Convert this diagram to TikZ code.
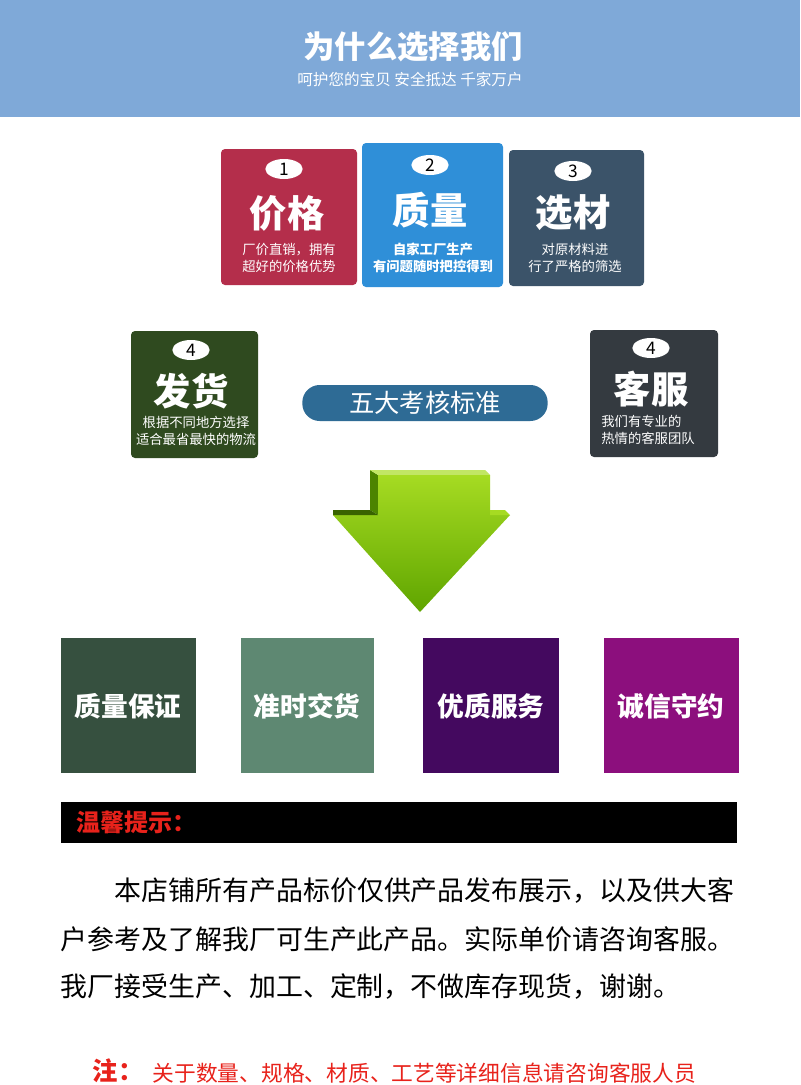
\documentclass[tikz,border=0pt]{standalone}
\usepackage{fontspec}
\newfontfamily\cjk{Noto Sans CJK SC}
\usetikzlibrary{shapes.geometric}
\definecolor{hdr}{HTML}{7FA9D8}
\definecolor{cA}{HTML}{B42E4B}
\definecolor{cB}{HTML}{2F8FD8}
\definecolor{cC}{HTML}{3B5369}
\definecolor{cD}{HTML}{2F4A1F}
\definecolor{cE}{HTML}{343A40}
\definecolor{pill}{HTML}{2E6B95}
\definecolor{sA}{HTML}{36503F}
\definecolor{sB}{HTML}{5E8872}
\definecolor{sC}{HTML}{44095F}
\definecolor{sD}{HTML}{8C0F7D}
\definecolor{rd}{HTML}{E8221B}
\definecolor{gA}{HTML}{A6DB22}
\definecolor{gB}{HTML}{5FA500}
\tikzset{
  x=0.75pt,y=-0.75pt,
  card/.style={rounded corners=3pt,inner sep=0},
  num/.style={ellipse,fill=white,minimum width=28pt,minimum height=15pt,inner sep=0,font=\cjk\fontsize{13}{13}\selectfont},
  big/.style={text=white,font=\cjk\bfseries\fontsize{28}{30}\selectfont},
  small/.style={text=white,align=center,font=\cjk\fontsize{10}{13}\selectfont},
  sq/.style={inner sep=0},
  sqt/.style={text=white,font=\cjk\bfseries\fontsize{20}{22}\selectfont},
  para/.style={anchor=west,font=\cjk\fontsize{20.2}{21}\selectfont}
}
\begin{document}
\begin{tikzpicture}
\useasboundingbox (0,0) rectangle (800,1085);
\fill[white] (0,0) rectangle (800,1085);
\fill[hdr] (0,0) rectangle (800,117);
\node[text=white,font=\cjk\bfseries\fontsize{23.5}{26}\selectfont] (title) at (413,47) {为什么选择我们};
\node[text=white,font=\cjk\fontsize{11.7}{13}\selectfont] (sub) at (410,80) {呵护您的宝贝 安全抵达 千家万户};
% top cards
\fill[cA,card] (221,149) rectangle (357,285);
\fill[cB,card] (362,143) rectangle (503,287);
\fill[cC,card] (509,150) rectangle (644,286);
\node[num] (n1) at (284,169) {1};
\node[num] (n2) at (430,165) {2};
\node[num] (n3) at (573,171) {3};
\node[big] (t1) at (287,213) {价格};
\node[big] (t2) at (430,210) {质量};
\node[big] (t3) at (573,213) {选材};
\node[small] (s1) at (289,258) {厂价直销，拥有\\超好的价格优势};
\node[small,font=\cjk\bfseries\fontsize{10}{13}\selectfont] (s2) at (433,258) {自家工厂生产\\有问题随时把控得到};
\node[small] (s3) at (575,258) {对原材料进\\行了严格的筛选};
% side cards
\fill[cD,card] (131,331) rectangle (258,458);
\fill[cE,card] (590,330) rectangle (718,457);
\node[num] (n4) at (191,350) {4};
\node[num] (n5) at (651,348) {4};
\node[big] (t4) at (191,391) {发货};
\node[big] (t5) at (651,389) {客服};
\node[small] (s4) at (196,431) {根据不同地方选择\\适合最省最快的物流};
\node[small,align=left] (s5) at (648,430) {我们有专业的\\热情的客服团队};
% pill
\node[fill=pill,rounded corners=13pt,minimum width=184pt,minimum height=27pt,text=white,font=\cjk\fontsize{19}{20}\selectfont] (pill) at (425,403) {五大考核标准};
% arrow
\fill[gB!80!black] (370,470) -- (378,475) -- (378,515) -- (370,510) -- cycle;
\fill[gA!70!white] (370,470) -- (485,470) -- (490,475) -- (378,475) -- cycle;
\shade[top color=gA,bottom color=gB] (378,475) -- (490,475) -- (490,515) -- (510,515) -- (420,612) -- (333,515) -- (378,515) -- cycle;
\fill[gB!60!black] (333,510) -- (370,510) -- (378,515) -- (333,515) -- cycle;
\fill[gA] (490,510) -- (505,510) -- (510,515) -- (490,515) -- cycle;
% squares
\fill[sA] (61,638) rectangle (196,773);
\fill[sB] (241,638) rectangle (374,773);
\fill[sC] (423,638) rectangle (559,773);
\fill[sD] (604,638) rectangle (739,773);
\node[sqt] (q1) at (128,706) {质量保证};
\node[sqt] (q2) at (307,706) {准时交货};
\node[sqt] (q3) at (491,706) {优质服务};
\node[sqt] (q4) at (671,706) {诚信守约};
% notice
\fill[black] (61,802) rectangle (737,843);
\node[anchor=west,text=rd,font=\cjk\bfseries\fontsize{18}{20}\selectfont] (tip) at (72,822) {温馨提示：};
\node[para] (p1) at (110,890) {本店铺所有产品标价仅供产品发布展示，以及供大客};
\node[para] (p2) at (56,939) {户参考及了解我厂可生产此产品。实际单价请咨询客服。};
\node[para] (p3) at (56,987) {我厂接受生产、加工、定制，不做库存现货，谢谢。};
\node[anchor=west,text=rd,font=\cjk\bfseries\fontsize{19}{20}\selectfont] (zhu) at (88,1071) {注：};
\node[anchor=west,text=rd,font=\cjk\fontsize{16.3}{17}\selectfont] (note) at (148,1073) {关于数量、规格、材质、工艺等详细信息请咨询客服人员};
\end{tikzpicture}
\end{document}
